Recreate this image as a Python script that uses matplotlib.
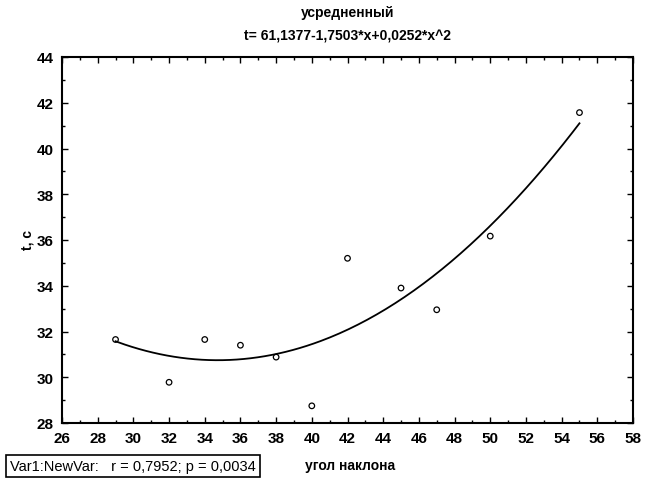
import numpy as np
import matplotlib
matplotlib.use("Agg")
import matplotlib.pyplot as plt
from matplotlib.ticker import MultipleLocator

x_vals = [29, 32, 34, 36, 38, 40, 42, 45, 47, 50, 55]
t_vals = [31.65, 29.78, 31.65, 31.4, 30.88, 28.75, 35.2, 33.9, 32.95, 36.17, 41.57]
coef = [61.1377, -1.7503, 0.0252]

title1 = "усредненный"
title2 = "t= 61,1377-1,7503*x+0,0252*x^2"
xlabel = "угол наклона"
ylabel = "t, c"
legend_text = "Var1:NewVar:   r = 0,7952; p = 0,0034"

plt.rcParams['font.family'] = ['Liberation Sans', 'DejaVu Sans']

fig = plt.figure(figsize=(6.5, 4.81), dpi=100)
ax = fig.add_axes([62/650, 57/481, (633-62)/650, (424-58)/481])

ax.scatter(x_vals, t_vals, s=16, facecolors='none', edgecolors='black', linewidths=0.9, zorder=3)
xx = np.linspace(min(x_vals), max(x_vals), 200)
yy = coef[0] + coef[1]*xx + coef[2]*xx**2
ax.plot(xx, yy, color='black', lw=1.3)

ax.set_xlim(26, 58)
ax.set_ylim(28, 44)
ax.xaxis.set_major_locator(MultipleLocator(2))
ax.xaxis.set_minor_locator(MultipleLocator(1))
ax.yaxis.set_major_locator(MultipleLocator(2))
ax.yaxis.set_minor_locator(MultipleLocator(1))
ax.tick_params(which='both', direction='in', top=True, right=True, width=1.0)
ax.tick_params(which='major', length=4, labelsize=11, pad=6)
ax.tick_params(which='minor', length=2.5)
for lab in ax.get_xticklabels() + ax.get_yticklabels():
    lab.set_fontweight('bold')
for s in ax.spines.values():
    s.set_linewidth(1.5)

fig.text(0.5*(62+633)/650, 1-13/481, title1, ha='center', va='center', fontsize=10, fontweight='bold')
fig.text(0.5*(62+633)/650, 1-37/481, title2, ha='center', va='center', fontsize=10, fontweight='bold')
fig.text(28/650, 1-240/481, ylabel, ha='center', va='center', rotation=90, fontsize=10, fontweight='bold')
fig.text(350/650, 1-466/481, xlabel, ha='center', va='center', fontsize=10, fontweight='bold')
fig.text(10/650, 1-467/481, legend_text, ha='left', va='center', fontsize=10.5,
         bbox=dict(boxstyle='square,pad=0.3', facecolor='white', edgecolor='black', linewidth=1.2))

fig.savefig("out.png", dpi=100)
